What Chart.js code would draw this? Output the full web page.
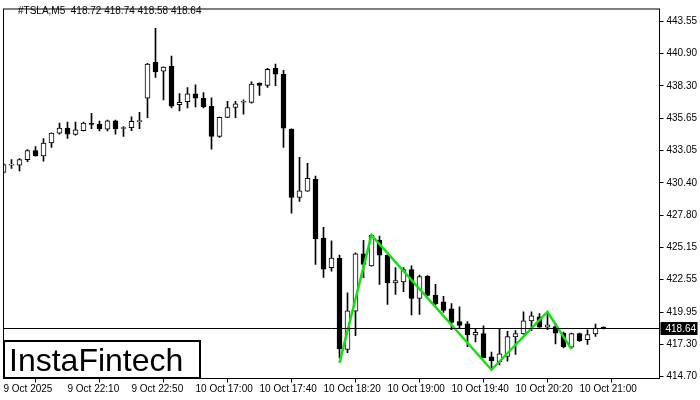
<!DOCTYPE html>
<html>
<head>
<meta charset="utf-8">
<script src="https://cdn.jsdelivr.net/npm/chart.js@4.4.1/dist/chart.umd.min.js"></script>
<style>
  html, body { margin: 0; padding: 0; background: #fff; }
  canvas { display: block; }
</style>
</head>
<body>
<canvas id="tslaChart" width="700" height="400"></canvas>
<script>
// M5 bars, 9 Oct 21:30 .. 10 Oct 21:15
const opens = [431.28, 431.87, 431.88, 432.32, 433.06, 432.63, 433.67, 434.47, 434.89, 434.36,
    434.68, 435.27, 435.21, 434.79, 435.48, 434.85, 434.92, 435.40, 437.31, 440.22,
    439.50, 439.91, 436.78, 437.02, 437.66, 437.29, 436.65, 434.20, 435.75, 436.55,
    436.98, 436.97, 438.54, 438.35, 439.74, 439.26, 434.81, 429.25, 429.76, 430.72,
    425.95, 423.54, 424.33, 416.91, 420.02, 424.68, 423.70, 425.77, 424.57, 422.32,
    422.39, 423.40, 421.06, 422.84, 421.33, 420.77, 420.21, 419.17, 418.99, 418.09,
    418.19, 416.30, 415.90, 416.35, 417.92, 418.16, 419.23, 419.55, 418.72, 418.77,
    418.21, 417.10, 418.19, 417.71, 418.16, 418.72];
const highs = [432.02, 432.32, 432.40, 433.14, 433.38, 434.02, 434.49, 435.29, 435.37, 435.37,
    435.37, 436.07, 435.45, 435.53, 435.53, 435.00, 435.80, 436.17, 440.14, 442.98,
    439.86, 440.72, 437.69, 438.17, 438.40, 437.77, 437.34, 435.77, 437.05, 437.05,
    437.18, 438.64, 438.56, 439.74, 440.08, 439.58, 434.83, 432.50, 432.02, 430.98,
    426.83, 425.72, 424.57, 421.51, 424.76, 425.77, 426.22, 426.11, 424.59, 423.56,
    423.56, 423.70, 422.95, 422.90, 422.20, 421.22, 420.63, 420.37, 419.17, 418.59,
    418.83, 416.70, 418.56, 418.37, 418.45, 419.97, 419.97, 419.83, 419.91, 419.03,
    418.32, 418.24, 418.24, 418.51, 418.96, 418.74];
const lows = [431.22, 431.60, 431.41, 432.16, 432.60, 432.20, 433.32, 434.39, 434.04, 434.31,
    434.65, 434.84, 434.65, 434.65, 434.39, 434.20, 434.68, 434.84, 435.72, 438.99,
    437.17, 436.51, 436.27, 436.51, 436.59, 436.51, 433.16, 434.12, 435.73, 435.72,
    436.01, 436.91, 437.53, 438.19, 438.33, 433.32, 427.97, 428.93, 429.74, 423.82,
    422.76, 423.26, 416.22, 416.64, 418.03, 422.74, 423.68, 422.18, 420.57, 421.38,
    421.59, 419.71, 419.75, 421.25, 420.55, 419.91, 418.51, 418.64, 417.14, 417.52,
    416.22, 415.26, 415.66, 415.95, 416.51, 418.14, 418.43, 418.69, 418.51, 417.36,
    417.04, 417.00, 417.57, 417.31, 417.97, 418.58];
const closes = [431.92, 431.91, 432.32, 433.06, 432.63, 433.67, 434.47, 434.89, 434.39, 434.73,
    435.29, 435.17, 434.84, 435.48, 434.84, 434.89, 435.43, 435.45, 440.08, 439.47,
    439.84, 436.67, 436.97, 437.66, 437.31, 436.59, 434.20, 435.75, 436.55, 436.86,
    437.01, 438.46, 438.35, 439.66, 439.26, 434.87, 429.25, 429.79, 430.80, 425.90,
    423.42, 424.33, 416.96, 420.05, 424.68, 423.82, 426.18, 424.57, 422.31, 422.50,
    423.40, 421.06, 422.82, 421.30, 420.63, 420.07, 419.11, 418.85, 418.08, 418.29,
    416.24, 416.00, 416.56, 417.95, 418.19, 419.23, 419.63, 418.72, 418.91, 418.24,
    417.12, 418.19, 417.63, 418.11, 418.64, 418.64];

// pattern line (bar index, price)
const patternIdx = [42, 46, 61, 68, 71];
const patternVal = [415.82, 426.19, 415.26, 419.97, 416.94];

const xTickLabels = ["9 Oct 2025", "9 Oct 22:10", "9 Oct 22:50", "10 Oct 17:00", "10 Oct 17:40",
    "10 Oct 18:20", "10 Oct 19:00", "10 Oct 19:40", "10 Oct 20:20", "10 Oct 21:00"];
const yTickLabels = ["414.70", "417.30", "419.95", "422.55", "425.15", "427.80",
    "430.40", "433.05", "435.65", "438.30", "440.90", "443.55"];

const symbol = "#TSLA,M5";
const emptySlots = 7; // chart shift on the right

document.addEventListener("DOMContentLoaded", function () {
    const ctx = document.getElementById("tslaChart").getContext("2d");
    Chart.defaults.font.family = "'Liberation Sans', Arial, sans-serif";
    Chart.defaults.font.size = 10;
    Chart.defaults.color = "#000";

    const n = opens.length;
    const slots = [];
    for (let i = 0; i < n + emptySlots; i++) slots.push(String(i));

    const wicks = lows.map((l, i) => [l, highs[i]]);
    const bodies = opens.map((o, i) => [o, closes[i]]);
    const bodyColors = opens.map((o, i) => closes[i] >= o ? "#ffffff" : "#000000");

    const pattern = slots.map(() => null);
    patternIdx.forEach((idx, k) => { pattern[idx] = patternVal[k]; });

    const lastBar = n - 1;
    const yLo = parseFloat(yTickLabels[0]);
    const yHi = parseFloat(yTickLabels[yTickLabels.length - 1]);

    const mtFrame = {
        id: "mtFrame",
        afterDatasetsDraw(chart) {
            const c = chart.ctx;
            const a = chart.chartArea;
            const y = chart.scales.y.getPixelForValue(closes[lastBar]);
            c.save();
            // bid line
            c.strokeStyle = "#000";
            c.lineWidth = 1;
            c.beginPath();
            c.moveTo(a.left, Math.round(y) + 0.5);
            c.lineTo(a.right, Math.round(y) + 0.5);
            c.stroke();
            // frame
            c.strokeRect(a.left, a.top, a.right - a.left, a.bottom - a.top);
            // price tag
            c.fillStyle = "#000";
            c.fillRect(a.right + 1, Math.round(y) - 6, 37, 13);
            c.fillStyle = "#fff";
            c.font = "10px 'Liberation Sans', Arial";
            c.textBaseline = "middle";
            c.fillText(closes[lastBar].toFixed(2), a.right + 6, Math.round(y) + 1);
            c.restore();
        },
        afterDraw(chart) {
            const c = chart.ctx;
            c.save();
            c.fillStyle = "#000";
            c.font = "10px 'Liberation Sans', Arial";
            c.textBaseline = "middle";
            c.fillText(symbol + "  " + [opens[lastBar], highs[lastBar], lows[lastBar], closes[lastBar]]
                .map(v => v.toFixed(2)).join(" "), 18, 11);
            // logo box
            c.fillStyle = "#fff";
            c.fillRect(4, 341, 196, 37);
            c.strokeStyle = "#000";
            c.lineWidth = 2;
            c.strokeRect(4, 341, 196, 37);
            c.fillStyle = "#000";
            c.font = "32px 'Liberation Sans', Arial";
            c.textBaseline = "alphabetic";
            c.fillText("InstaFintech", 9, 371);
            c.restore();
        }
    };

    new Chart(ctx, {
        type: "bar",
        data: {
            labels: slots,
            datasets: [
                {
                    type: "line",
                    label: "pattern",
                    data: pattern,
                    borderColor: "#14e014",
                    borderWidth: 2.5,
                    pointRadius: 0,
                    spanGaps: true,
                    order: -1
                },
                {
                    label: "bodies",
                    data: bodies,
                    backgroundColor: bodyColors,
                    borderColor: "#000",
                    borderWidth: 1,
                    borderSkipped: false,
                    barThickness: 5,
                    minBarLength: 1,
                    grouped: false,
                    order: 0
                },
                {
                    label: "wicks",
                    data: wicks,
                    backgroundColor: "#000",
                    barThickness: 1,
                    grouped: false,
                    order: 1
                }
            ]
        },
        options: {
            responsive: false,
            animation: false,
            events: [],
            layout: { padding: { left: 3.5, top: 2.5, right: 0, bottom: 0 } },
            plugins: { legend: { display: false }, tooltip: { enabled: false } },
            scales: {
                x: {
                    type: "category",
                    offset: false,
                    border: { display: false },
                    grid: { display: true, drawOnChartArea: false, drawTicks: true, tickLength: 4, color: "#000" },
                    afterBuildTicks: (scale) => {
                        scale.ticks = scale.ticks.filter(t => t.value % 8 === 0 && t.value / 8 < xTickLabels.length);
                    },
                    afterFit: (scale) => { scale.height = 21.5; },
                    ticks: {
                        autoSkip: false,
                        maxRotation: 0,
                        align: "start",
                        padding: 1,
                        callback: (value) => xTickLabels[value / 8]
                    }
                },
                y: {
                    position: "right",
                    min: 414.55,
                    max: 444.55,
                    border: { display: false },
                    grid: { display: true, drawOnChartArea: false, drawTicks: true, tickLength: 4, color: "#000" },
                    afterBuildTicks: (scale) => {
                        const step = (yHi - yLo) / (yTickLabels.length - 1);
                        scale.ticks = yTickLabels.map((t, k) => ({ value: yLo + k * step }));
                    },
                    afterFit: (scale) => { scale.width = 40.5; },
                    ticks: {
                        padding: 3,
                        callback: (value, index) => yTickLabels[index]
                    }
                }
            }
        },
        plugins: [mtFrame]
    });
});
</script>
</body>
</html>
